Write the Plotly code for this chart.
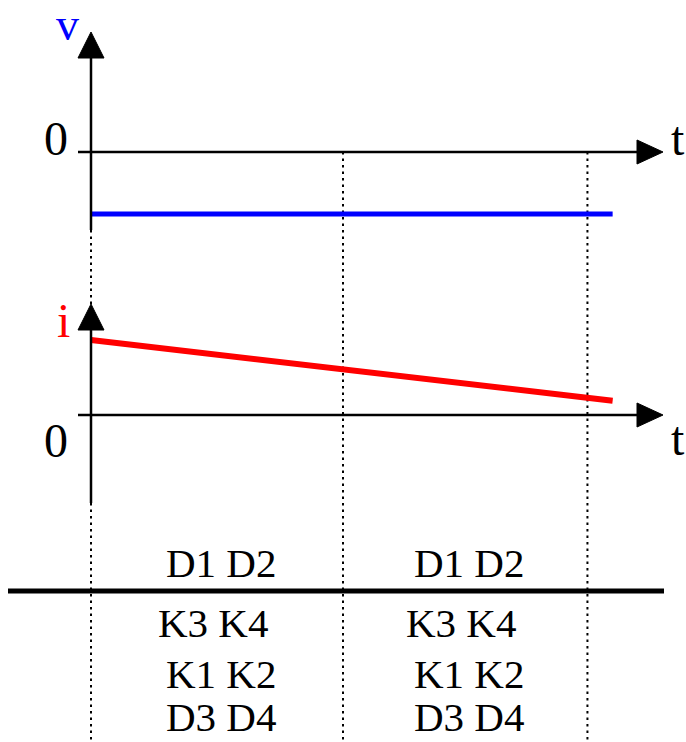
import plotly.graph_objects as go

# ---- waveform data (normalised time, per-unit amplitudes) ----
t_switch = [0.0, 1.0, 1.97]          # interval boundaries (dotted guides)
t_stop = 2.07                         # end of the drawn waveforms
v_time = [0.0, t_stop]
v_vals = [-1.0, -1.0]                 # constant negative voltage
i_time = [0.0, t_stop]
i_vals = [1.0, 0.19]                  # linearly decaying current

# conduction table: one row per line of text, one entry per interval
table_rows = [
    ["D1 D2", "D1 D2"],
    ["K3 K4", "K3 K4"],
    ["K1 K2", "K1 K2"],
    ["D3 D4", "D3 D4"],
]

# ---- canvas geometry ----
W, H = 686, 742
X_ORIGIN_PX = 91                      # pixel column of t = 0
X_SCALE = 252                         # pixels per time unit
V_ZERO_PX, V_SCALE = 152, 62          # v = 0 row and pixels per unit
I_ZERO_PX, I_SCALE = 415, 75          # i = 0 row and pixels per unit

x_range = [-X_ORIGIN_PX / X_SCALE, (W - X_ORIGIN_PX) / X_SCALE]
yv_range = [-(H - V_ZERO_PX) / V_SCALE, V_ZERO_PX / V_SCALE]
yi_range = [-(H - I_ZERO_PX) / I_SCALE, I_ZERO_PX / I_SCALE]


def px_x(px):
    return (px - X_ORIGIN_PX) / X_SCALE


def px_v(py):
    return (V_ZERO_PX - py) / V_SCALE


def px_i(py):
    return (I_ZERO_PX - py) / I_SCALE


def paper_y(py):
    return 1 - py / H


SERIF = "Liberation Serif, Times New Roman, serif"
BLACK = "#000000"
AXIS_W = 2.5

fig = go.Figure()

fig.add_trace(go.Scatter(x=v_time, y=v_vals, mode="lines",
                         line=dict(color="#0000FF", width=5),
                         yaxis="y", hoverinfo="skip"))
fig.add_trace(go.Scatter(x=i_time, y=i_vals, mode="lines",
                         line=dict(color="#FF0000", width=6),
                         yaxis="y2", hoverinfo="skip"))

shapes = []

# dotted interval guides, from the upper time axis down to the bottom
for ts in t_switch:
    shapes.append(dict(type="line", xref="x", yref="y",
                       x0=ts, x1=ts, y0=0, y1=yv_range[0],
                       line=dict(color=BLACK, width=2, dash="2.5px,4px"),
                       layer="below"))

t_axis_tip = px_x(663)
arrow_len = 26
arrow_half = 12

for yref, zero_row, to_data, top_px, bottom_px in [
    ("y", V_ZERO_PX, px_v, 32, 230),
    ("y2", I_ZERO_PX, px_i, 304, 503),
]:
    # horizontal time axis with arrow head
    shapes.append(dict(type="line", xref="x", yref=yref,
                       x0=px_x(78), x1=t_axis_tip - arrow_len / X_SCALE,
                       y0=0, y1=0, line=dict(color=BLACK, width=AXIS_W)))
    shapes.append(dict(type="path", xref="x", yref=yref,
                       xsizemode="pixel", ysizemode="pixel",
                       xanchor=t_axis_tip, yanchor=0,
                       path=f"M0,0 L{-arrow_len},{arrow_half} L{-arrow_len},{-arrow_half} Z",
                       fillcolor=BLACK, line=dict(color=BLACK, width=1)))
    # vertical amplitude axis with arrow head
    tip = to_data(top_px)
    shapes.append(dict(type="line", xref="x", yref=yref,
                       x0=0, x1=0, y0=to_data(bottom_px),
                       y1=to_data(top_px + arrow_len),
                       line=dict(color=BLACK, width=AXIS_W)))
    shapes.append(dict(type="path", xref="x", yref=yref,
                       xsizemode="pixel", ysizemode="pixel",
                       xanchor=0, yanchor=tip,
                       path=f"M0,0 L{-arrow_half - 1},{-arrow_len} L{arrow_half + 1},{-arrow_len} Z",
                       fillcolor=BLACK, line=dict(color=BLACK, width=1)))

# heavy separator of the conduction table
shapes.append(dict(type="line", xref="x", yref="paper",
                   x0=px_x(8), x1=px_x(664),
                   y0=paper_y(591), y1=paper_y(591),
                   line=dict(color=BLACK, width=5)))

annotations = []


def label(text, x_px, y_px, color=BLACK, size=48):
    annotations.append(dict(text=text, x=px_x(x_px), y=paper_y(y_px),
                            xref="x", yref="paper", showarrow=False,
                            xanchor="center", yanchor="middle",
                            font=dict(family=SERIF, size=size, color=color)))


label("v", 67, 25, color="#0000FF", size=46)
label("0", 56, 138)
label("t", 678, 138)
label("i", 63, 320, color="#FF0000")
label("0", 56, 440)
label("t", 678, 438)

# conduction table text, centred in each interval
row_centres_px = [563, 623, 674, 717]
row_shift_px = [4, -4, 4, 4]
mids = [(t_switch[k] + t_switch[k + 1]) / 2 for k in range(len(t_switch) - 1)]
for row, yc, dx in zip(table_rows, row_centres_px, row_shift_px):
    for text, tm in zip(row, mids):
        annotations.append(dict(text=text, x=tm, y=paper_y(yc),
                                xref="x", yref="paper", showarrow=False,
                                xanchor="center", yanchor="middle", xshift=dx,
                                font=dict(family=SERIF, size=41, color=BLACK)))

fig.update_layout(
    width=W, height=H,
    margin=dict(l=0, r=0, t=0, b=0),
    paper_bgcolor="white", plot_bgcolor="white",
    showlegend=False,
    xaxis=dict(range=x_range, visible=False, fixedrange=True),
    yaxis=dict(range=yv_range, visible=False, fixedrange=True),
    yaxis2=dict(range=yi_range, visible=False, overlaying="y", fixedrange=True),
    shapes=shapes,
    annotations=annotations,
)

fig.write_html("out.html", config={"displayModeBar": False})
